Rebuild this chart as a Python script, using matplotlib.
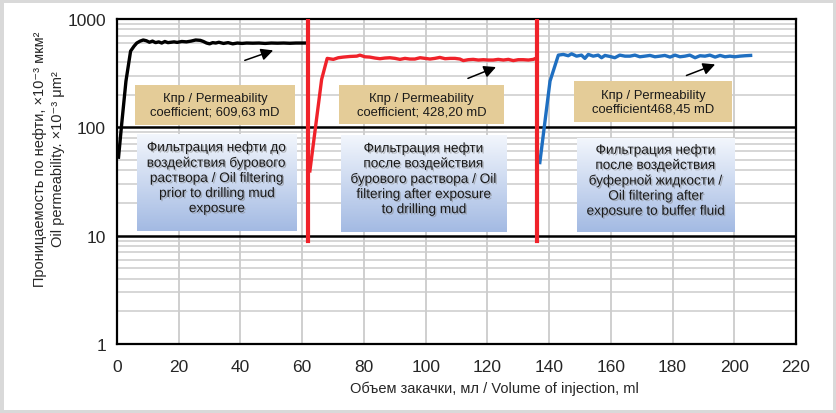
import numpy as np
import matplotlib.pyplot as plt
import matplotlib.patheffects as pe
from matplotlib.ticker import FixedLocator, NullFormatter

plt.rcParams['font.family'] = ['Liberation Sans', 'DejaVu Sans']

# --- data ---
black_x = [0.5, 1.5, 2.9, 4.4, 5.5, 6.4, 7.5, 8.5, 9.5, 10.5, 11.5, 12.5, 13.5, 14.5,
           15.5, 16.5, 17.5, 18.5, 19.5, 21, 22.5, 24, 25.5, 27, 28, 29, 30, 31, 32,
           33, 34.5, 36, 37.5, 39, 40.5, 42, 44, 46, 48, 50, 52, 54, 56, 58, 60, 61.5]
black_y = [53, 106, 267, 505, 560, 600, 625, 640, 630, 610, 625, 605, 615, 600,
           620, 605, 610, 615, 608, 620, 615, 625, 640, 635, 620, 600, 590, 605, 600,
           610, 595, 605, 590, 600, 595, 600, 598, 600, 595, 600, 598, 600, 597, 600, 600, 600]

red_x = [62.5, 66.3, 68.1, 70.1, 71.7, 73.3, 75.5, 77.7, 78.7, 80.3, 81.9, 83.6, 85.2,
         86.8, 88.4, 90.1, 91.7, 93.3, 94.9, 96.5, 98.2, 99.8, 101.4, 103.0, 104.6,
         106.3, 107.9, 109.5, 111.1, 112.2, 113.8, 115.4, 117.1, 118.7, 120.3, 121.9,
         123.5, 125.2, 126.8, 128.4, 130.0, 131.6, 133.3, 134.9, 135.4]
red_y = [39.6, 277, 433, 424, 439, 445, 451, 454, 464, 448, 445, 436, 430,
         436, 439, 433, 424, 433, 427, 427, 439, 433, 427, 433, 442,
         430, 433, 433, 427, 413, 421, 424, 418, 421, 418, 418,
         424, 418, 424, 413, 421, 421, 418, 424, 430]

blue_x = [137.0, 140.3, 143.0, 144.6, 146.2, 147.3, 148.9, 150.5, 151.6, 152.7, 154.3,
          155.9, 157.0, 158.1, 159.7, 161.3, 162.9, 164.6, 166.2, 167.8, 169.4, 171.0,
          172.7, 174.3, 175.9, 177.5, 179.2, 180.8, 182.4, 184.0, 185.6, 187.3, 188.9,
          190.5, 192.1, 193.8, 195.4, 197.0, 198.6, 200.2, 201.8, 203.5, 205.3]
blue_y = [47.3, 267, 464, 471, 458, 477, 454, 464, 433, 471, 454,
          464, 439, 461, 451, 439, 464, 454, 454, 464, 448, 454,
          461, 448, 454, 461, 445, 464, 448, 454, 464, 439, 458,
          454, 464, 445, 461, 448, 454, 448, 454, 458, 461]

divider_x = [62, 136]
divider_y = [8.9, 1000]

# arrows: (tail, head)
arrows = [((41.4, 415), (50.6, 513)),
          ((113.7, 283), (122.8, 360)),
          ((184.5, 301), (193.8, 381))]

perm_labels = ['Кпр / Permeability\ncoefficient; 609,63 mD',
               'Кпр / Permeability\ncoefficient; 428,20 mD',
               'Кпр / Permeability\ncoefficient468,45 mD']
stage_labels = ['Фильтрация нефти до\nвоздействия бурового\nраствора / Oil filtering\nprior to drilling mud\nexposure',
                'Фильтрация нефти\nпосле воздействия\nбурового раствора / Oil\nfiltering after exposure\nto drilling mud',
                'Фильтрация нефти\nпосле воздействия\nбуферной жидкости /\nOil filtering after\nexposure to buffer fluid']

x_ticks = [0, 20, 40, 60, 80, 100, 120, 140, 160, 180, 200, 220]
y_ticks = [1, 10, 100, 1000]

fig = plt.figure(figsize=(8.36, 4.14), dpi=100)
fig.patch.set_edgecolor('#d9d9d9')
fig.patch.set_linewidth(5)

ax = fig.add_axes([117 / 836, 69 / 414, 679 / 836, 325 / 414])
ax.set_yscale('log')
ax.set_xlim(0, 220)
ax.set_ylim(1, 1000)

# grid
minor = [m * 10 ** d for d in range(3) for m in range(2, 10)]
for v in minor:
    ax.axhline(v, color='#cccccc', lw=1.1, zorder=0)
for v in x_ticks[1:-1]:
    ax.axvline(v, color='#cccccc', lw=1.3, zorder=0)
for v in [10, 100]:
    ax.axhline(v, color='black', lw=1.8, zorder=1)
for s in ax.spines.values():
    s.set_linewidth(1.6)

ax.xaxis.set_major_locator(FixedLocator(x_ticks))
ax.yaxis.set_major_locator(FixedLocator(y_ticks))
ax.yaxis.set_minor_formatter(NullFormatter())
ax.set_yticklabels([str(v) for v in y_ticks])
ax.tick_params(axis='both', which='both', length=0, labelsize=12.5, colors='#262626')
ax.tick_params(axis='x', pad=11)
ax.tick_params(axis='y', pad=8)

ax.plot(black_x, black_y, color='black', lw=2.4, zorder=5)
ax.plot(red_x, red_y, color='#f0222a', lw=2.4, zorder=5)
ax.plot(blue_x, blue_y, color='#1f6fc1', lw=2.4, zorder=5)
for xv in divider_x:
    ax.plot([xv, xv], divider_y, color='#f0222a', lw=3, zorder=6)

for tail, head in arrows:
    ax.annotate('', xy=head, xytext=tail,
                arrowprops=dict(arrowstyle='-|>', color='black', lw=1.1,
                                mutation_scale=18, shrinkA=0, shrinkB=0), zorder=7)

fig.text(494 / 836, 1 - 389 / 414, 'Объем закачки, мл / Volume of injection, ml',
         ha='center', va='center', fontsize=10.5, color='#262626')
fig.text(40 / 836, 1 - 159 / 414, 'Проницаемость по нефти, ×10⁻³ мкм²',
         rotation=90, ha='center', va='center', fontsize=10.5, color='#262626')
fig.text(58 / 836, 1 - 159 / 414, 'Oil permeability. ×10⁻³ μm²',
         rotation=90, ha='center', va='center', fontsize=10.5, color='#262626')

# boxes
tan_boxes = [[135, 86, 295, 126], [339, 86, 504, 125], [574, 82, 732, 123]]
blue_boxes = [[137, 135, 297, 232], [341, 136, 507, 233], [577, 139, 735, 233]]

grad = np.linspace(0, 1, 100)[:, None]
top = np.array([0.95, 0.965, 0.99])
bot = np.array([0.64, 0.73, 0.89])
grad_img = top[None, None, :] * (1 - grad[:, :, None]) + bot[None, None, :] * grad[:, :, None]

shadow = [pe.SimplePatchShadow(offset=(1, -1), shadow_rgbFace='#7f7f7f', alpha=0.5), pe.Normal()]

for (x0, y0, x1, y1), txt in zip(tan_boxes, perm_labels):
    bx = fig.add_axes([x0 / 836, 1 - y1 / 414, (x1 - x0) / 836, (y1 - y0) / 414])
    bx.set_facecolor('#e4cc98')
    bx.set_xticks([])
    bx.set_yticks([])
    for s in bx.spines.values():
        s.set_visible(False)
    bx.text(0.5, 0.5, txt, ha='center', va='center', fontsize=9.4,
            color='#1a1a1a', linespacing=1.15, transform=bx.transAxes)

for (x0, y0, x1, y1), txt in zip(blue_boxes, stage_labels):
    bx = fig.add_axes([x0 / 836, 1 - y1 / 414, (x1 - x0) / 836, (y1 - y0) / 414])
    bx.imshow(grad_img, aspect='auto', extent=[0, 1, 0, 1])
    bx.set_xlim(0, 1)
    bx.set_ylim(0, 1)
    bx.axis('off')
    bx.text(0.5, 0.55, txt, ha='center', va='center', fontsize=9.8,
            color='#1a1a1a', linespacing=1.1, path_effects=shadow)

fig.savefig('out.png', dpi=100)
